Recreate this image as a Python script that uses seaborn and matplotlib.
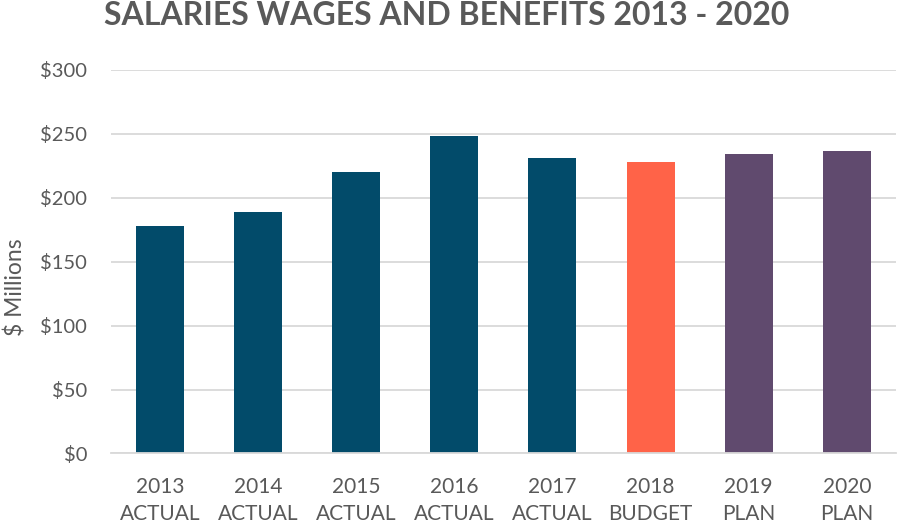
import matplotlib
matplotlib.use("Agg")
import matplotlib.pyplot as plt
import seaborn as sns
import pandas as pd
from matplotlib.ticker import FuncFormatter, MultipleLocator

# Salaries, wages and benefits by year ($ millions)
years = ["2013", "2014", "2015", "2016", "2017", "2018", "2019", "2020"]
kinds = ["ACTUAL", "ACTUAL", "ACTUAL", "ACTUAL", "ACTUAL", "BUDGET", "PLAN", "PLAN"]
values = [178, 189, 220, 248, 231, 228, 234, 237]

kind_colors = {"ACTUAL": "#024B6A", "BUDGET": "#FF6348", "PLAN": "#604A6E"}

labels = [f"{y}\n{k}" for y, k in zip(years, kinds)]
df = pd.DataFrame({"label": labels, "kind": kinds, "value": values})

sns.set_theme(style="white")
plt.rcParams["font.family"] = ["Lato", "DejaVu Sans"]

fig = plt.figure(figsize=(8.97, 5.27), dpi=100)
ax = fig.add_axes([0.1237, 0.1395, 0.875, 0.7277])

sns.barplot(data=df, x="label", y="value", hue="kind", palette=kind_colors,
            width=0.49, dodge=False, legend=False, ax=ax, saturation=1,
            linewidth=0)

ax.set_ylim(0, 300)
ax.set_xlim(-0.5, len(labels) - 0.5)
ax.yaxis.set_major_locator(MultipleLocator(50))
ax.yaxis.set_major_formatter(FuncFormatter(lambda v, _: f"${v:.0f}"))
ax.grid(axis="y", color="#D9D9D9", linewidth=1.3)
ax.set_axisbelow(True)
for s in ["top", "right", "left"]:
    ax.spines[s].set_visible(False)
ax.spines["bottom"].set_color("#D9D9D9")
ax.spines["bottom"].set_linewidth(1.3)

ax.tick_params(axis="both", length=0, colors="#595959")
ax.tick_params(axis="y", labelsize=14.5, pad=17)
ax.tick_params(axis="x", labelsize=15, pad=17)
for t in ax.get_xticklabels():
    t.set_linespacing(1.45)

ax.set_xlabel("")
ax.set_ylabel("$ Millions", fontsize=16.5, color="#595959")
ax.yaxis.set_label_coords(-0.108, 0.434)

fig.suptitle("SALARIES WAGES AND BENEFITS 2013 - 2020", x=0.4985, y=0.998,
             va="top", fontsize=23, fontweight="bold", color="#595959")

fig.savefig("out.png", dpi=100)
